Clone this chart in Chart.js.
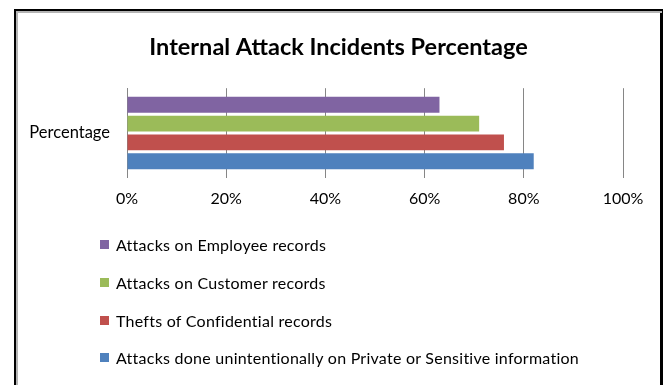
<!DOCTYPE html>
<html>
<head>
<meta charset="utf-8">
<script src="https://cdn.jsdelivr.net/npm/chart.js@4.4.1/dist/chart.umd.min.js"></script>
<style>
  html, body { margin: 0; padding: 0; background: #fff; }
  body { width: 665px; height: 385px; position: relative; overflow: hidden; font-family: Lato, 'Open Sans', sans-serif; }
  #frame { position: absolute; left: 14px; top: 9px; width: 644px; height: 400px;
           border-top: 2px solid #000; border-left: 2px solid #000; border-right: 3px solid #000; }
  #inner { position: absolute; left: 16px; top: 11px; width: 644px; height: 400px;
           border-top: 2px solid #b4b4b4; border-left: 2px solid #b4b4b4; }
  #chartBox { position: absolute; left: 17px; top: 12px; width: 643px; height: 217px; }
  #legend { position: absolute; left: 100px; top: 226px; }
  .item { display: flex; align-items: center; height: 37.7px; font-size: 16px; letter-spacing: 0.25px; color: #000; }
  .swatch { width: 9px; height: 9px; margin-right: 7px; }
</style>
</head>
<body>
<div id="frame"></div>
<div id="inner"></div>
<div id="chartBox"><canvas id="incidentChart"></canvas></div>
<div id="legend"></div>
<script>
const categories = ['Percentage'];
const seriesNames = [
  'Attacks on Employee records',
  'Attacks on Customer records',
  'Thefts of Confidential records',
  'Attacks done unintentionally on Private or Sensitive information'
];
const seriesValues = [63, 71, 76, 82];
const seriesColors = ['#8064A2', '#9BBB59', '#C0504D', '#4F81BD'];
const tickValues = [0, 20, 40, 60, 80, 100];

const datasets = seriesNames.map((name, i) => ({
  label: name,
  data: [seriesValues[i]],
  backgroundColor: seriesColors[i],
  borderWidth: 0,
  categoryPercentage: 0.84,
  barPercentage: 0.84
}));

// Legend is laid out as a vertical list under the plot
const legendEl = document.getElementById('legend');
seriesNames.forEach((name, i) => {
  const row = document.createElement('div');
  row.className = 'item';
  row.innerHTML = `<span class="swatch" style="background:${seriesColors[i]}"></span><span>${name}</span>`;
  legendEl.appendChild(row);
});

// centre the title across the whole canvas, not just the padded layout box
const wideTitle = {
  id: 'wideTitle',
  afterLayout(chart) {
    if (chart.titleBlock) {
      chart.titleBlock.left = 0;
      chart.titleBlock.right = chart.width;
    }
  }
};

new Chart(document.getElementById('incidentChart'), {
  type: 'bar',
  data: { labels: categories, datasets: datasets },
  plugins: [wideTitle],
  options: {
    indexAxis: 'y',
    responsive: true,
    maintainAspectRatio: false,
    animation: false,
    layout: { padding: { left: 0, right: 37, top: 0, bottom: 10 } },
    plugins: {
      legend: { display: false },
      tooltip: { enabled: false },
      title: {
        display: true,
        text: 'Internal Attack Incidents Percentage',
        color: '#000',
        font: { family: 'Lato', size: 23.5, weight: 'bold' },
        padding: { top: 21, bottom: 27 }
      }
    },
    scales: {
      x: {
        min: 0,
        max: 100,
        afterBuildTicks: scale => { scale.ticks = tickValues.map(v => ({ value: v })); },
        grid: { color: '#868686', drawTicks: false },
        border: { display: false },
        ticks: {
          color: '#000',
          padding: 11,
          font: { family: 'Lato', size: 16 },
          callback: v => v + '%'
        }
      },
      y: {
        grid: { display: false, drawTicks: false },
        border: { display: true, color: '#868686' },
        afterFit: scale => { scale.width = 110; },
        ticks: {
          color: '#000',
          padding: 17,
          font: { family: 'Lato', size: 16.5 }
        }
      }
    }
  }
});
</script>
</body>
</html>
